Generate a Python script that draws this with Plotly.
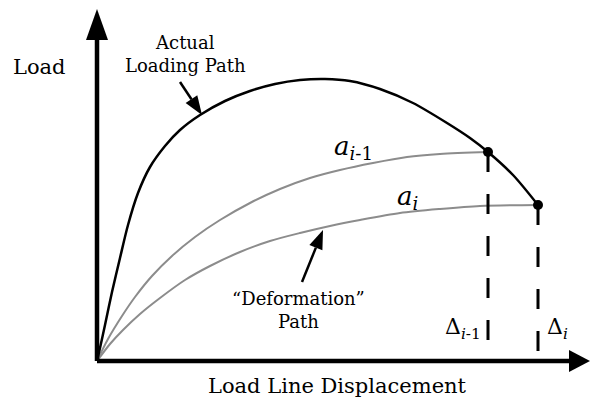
import plotly.graph_objects as go

# Actual loading path (load vs. load-line displacement)
disp_actual = [0.00, 0.03, 0.08, 0.15, 0.23, 0.31, 0.41, 0.53, 0.68, 0.83, 1.03, 1.28,
               1.53, 1.78, 2.03, 2.28, 2.53, 2.83, 3.16, 3.50, 3.73, 3.91, 4.16, 4.41]
load_actual = [0.00, 0.13, 0.36, 0.69, 1.03, 1.36, 1.68, 1.94, 2.15, 2.31, 2.46, 2.60,
               2.70, 2.77, 2.81, 2.82, 2.80, 2.72, 2.58, 2.38, 2.23, 2.09, 1.86, 1.56]

# Deformation path for crack length a_(i-1)
disp_prev = [0.00, 0.11, 0.25, 0.38, 0.55, 0.75, 0.98, 1.23, 1.53, 1.83, 2.13, 2.43,
             2.76, 3.10, 3.43, 3.91]
load_prev = [0.00, 0.22, 0.45, 0.64, 0.85, 1.05, 1.24, 1.41, 1.58, 1.72, 1.83, 1.91,
             1.98, 2.04, 2.07, 2.09]

# Deformation path for crack length a_i
disp_curr = [0.00, 0.13, 0.26, 0.43, 0.63, 0.88, 1.13, 1.43, 1.73, 2.03, 2.33, 2.63,
             3.03, 3.43, 3.83, 4.41]
load_curr = [0.00, 0.17, 0.31, 0.47, 0.63, 0.81, 0.95, 1.09, 1.20, 1.28, 1.35, 1.41,
             1.48, 1.52, 1.55, 1.56]

# Displacements Δ_(i-1), Δ_i and the loads reached there
delta = [3.91, 4.41]
delta_load = [2.09, 1.56]

X_RANGE = [-0.97, 4.93]
Y_RANGE = [-0.46, 3.61]
SERIF = "DejaVu Serif"


def head_path(tip, tail, length, width):
    """Filled triangular arrow head at `tip`, pointing away from `tail` (isotropic units)."""
    dx, dy = tip[0] - tail[0], tip[1] - tail[1]
    n = (dx * dx + dy * dy) ** 0.5
    ux, uy = dx / n, dy / n
    bx, by = tip[0] - ux * length, tip[1] - uy * length
    px, py = -uy * width / 2, ux * width / 2
    return (f"M {tip[0]},{tip[1]} L {bx + px},{by + py} L {bx - px},{by - py} Z",
            (bx, by))


fig = go.Figure()

gray_line = dict(color="#8c8c8c", width=2, shape="spline", smoothing=0.8)
fig.add_trace(go.Scatter(x=disp_prev, y=load_prev, mode="lines", line=gray_line))
fig.add_trace(go.Scatter(x=disp_curr, y=load_curr, mode="lines", line=gray_line))
fig.add_trace(go.Scatter(x=disp_actual, y=load_actual, mode="lines",
                         line=dict(color="black", width=2.5, shape="spline", smoothing=0.8)))

for d, p in zip(delta, delta_load):
    fig.add_trace(go.Scatter(x=[d, d], y=[p, 0], mode="lines",
                             line=dict(color="black", width=3, dash="20px,22px")))

fig.add_trace(go.Scatter(x=delta, y=delta_load, mode="markers",
                         marker=dict(color="black", size=10)))

shapes = []
# axes with arrow heads
y_tip, x_tip = (0, 3.52), (4.93, 0)
path, base = head_path(y_tip, (0, 0), 0.31, 0.22)
shapes.append(dict(type="line", x0=0, y0=0, x1=0, y1=base[1] + 0.01,
                   line=dict(color="black", width=4.5)))
shapes.append(dict(type="path", path=path, fillcolor="black", line=dict(width=0)))
path, base = head_path(x_tip, (0, 0), 0.21, 0.22)
shapes.append(dict(type="line", x0=0, y0=0, x1=base[0] + 0.01, y1=0,
                   line=dict(color="black", width=4.5)))
shapes.append(dict(type="path", path=path, fillcolor="black", line=dict(width=0)))

# pointer arrows for the curve labels
for tail, tip in [((0.83, 2.79), (1.05, 2.46)), ((2.05, 0.79), (2.26, 1.31))]:
    path, base = head_path(tip, tail, 0.19, 0.14)
    shapes.append(dict(type="line", x0=tail[0], y0=tail[1], x1=base[0], y1=base[1],
                       line=dict(color="black", width=2.5)))
    shapes.append(dict(type="path", path=path, fillcolor="black", line=dict(width=0)))

annotations = [
    dict(x=-0.58, y=2.94, text="Load", font=dict(size=21)),
    dict(x=2.40, y=-0.25, text="Load Line Displacement", font=dict(size=21)),
    dict(x=0.88, y=3.07, text="Actual<br>Loading Path", font=dict(size=18)),
    dict(x=2.01, y=0.51, text="\u201cDeformation\u201d<br>Path", font=dict(size=18)),
    dict(x=2.35, y=2.14, xanchor="left", text="<i>a</i><sub><i>i</i>-1</sub>", font=dict(size=26)),
    dict(x=2.98, y=1.64, xanchor="left", text="<i>a</i><sub><i>i</i></sub>", font=dict(size=26)),
    dict(x=3.86, y=0.33, xanchor="right", text="\u0394<sub><i>i</i>-1</sub>", font=dict(size=22)),
    dict(x=4.48, y=0.33, xanchor="left", text="\u0394<sub><i>i</i></sub>", font=dict(size=22)),
]
for a in annotations:
    a.setdefault("xanchor", "center")
    a.update(xref="x", yref="y", yanchor="middle", showarrow=False)
    a["font"].update(family=SERIF, color="black")

fig.update_layout(
    width=590, height=407,
    margin=dict(l=0, r=0, t=0, b=0),
    paper_bgcolor="white", plot_bgcolor="white",
    showlegend=False,
    font=dict(family=SERIF, color="black"),
    xaxis=dict(range=X_RANGE, visible=False, fixedrange=True),
    yaxis=dict(range=Y_RANGE, visible=False, fixedrange=True),
    shapes=shapes,
    annotations=annotations,
)

fig.write_html("out.html")
